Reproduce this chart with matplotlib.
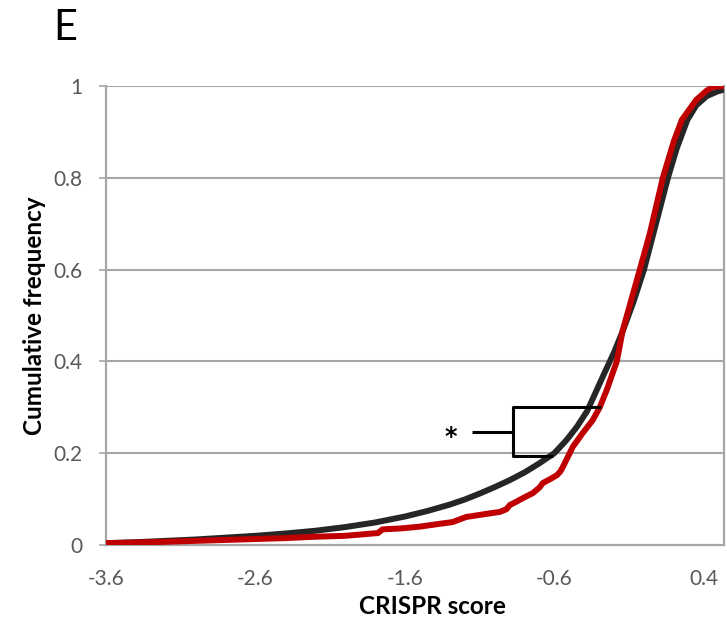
import matplotlib
matplotlib.use("Agg")
import matplotlib.pyplot as plt

plt.rcParams['font.family'] = ['Lato', 'DejaVu Sans']

# Black curve (all genes)
black_x = [-3.6, -3.4, -3.2, -3.0, -2.8, -2.6, -2.4, -2.2, -2.0, -1.8, -1.6, -1.45, -1.3,
           -1.2, -1.1, -1.0, -0.9, -0.8, -0.7, -0.6, -0.52, -0.45, -0.38, -0.32, -0.26,
           -0.2, -0.14, -0.07, 0.0, 0.08, 0.16, 0.22, 0.29, 0.35, 0.42, 0.49, 0.535]
black_y = [0.004, 0.006, 0.009, 0.012, 0.016, 0.020, 0.025, 0.031, 0.039, 0.049, 0.062, 0.074, 0.088,
           0.099, 0.112, 0.126, 0.141, 0.158, 0.178, 0.200, 0.228, 0.257, 0.292, 0.335, 0.378,
           0.420, 0.468, 0.530, 0.600, 0.700, 0.800, 0.865, 0.926, 0.958, 0.978, 0.988, 0.992]

# Red curve (subset)
red_x = [-3.6, -3.2, -2.8, -2.4, -2.2, -2.0, -1.78, -1.75, -1.63, -1.50, -1.37, -1.28, -1.19,
         -1.05, -0.965, -0.92, -0.898, -0.85, -0.811, -0.744, -0.70, -0.677, -0.62, -0.583,
         -0.56, -0.543, -0.476, -0.41, -0.343, -0.296, -0.249, -0.182, -0.142, -0.028, 0.04,
         0.126, 0.20, 0.253, 0.35, 0.42, 0.46, 0.535]
red_y = [0.004, 0.007, 0.011, 0.015, 0.018, 0.020, 0.026, 0.034, 0.036, 0.040, 0.046, 0.050, 0.061,
         0.068, 0.072, 0.078, 0.087, 0.095, 0.102, 0.113, 0.125, 0.135, 0.145, 0.152,
         0.160, 0.170, 0.214, 0.244, 0.272, 0.300, 0.338, 0.400, 0.468, 0.600, 0.680,
         0.800, 0.880, 0.926, 0.970, 0.990, 0.998, 1.0]

x_ticks = [-3.6, -2.6, -1.6, -0.6, 0.4]
x_tick_labels = ["-3.6", "-2.6", "-1.6", "-0.6", "0.4"]
y_ticks = [0, 0.2, 0.4, 0.6, 0.8, 1.0]
y_tick_labels = ["0", "0.2", "0.4", "0.6", "0.8", "1"]

fig = plt.figure(figsize=(7.27, 6.21), dpi=100)
ax = fig.add_axes([0.1458, 0.1224, 0.850, 0.7391])

grid_c = '#A6A6A6'
ax.set_xlim(-3.6, 0.535)
ax.set_ylim(0, 1)
for yv in y_ticks[1:]:
    ax.axhline(yv, color=grid_c, lw=1.5, zorder=1)

ax.plot(black_x, black_y, color='#262626', lw=4.3, zorder=3, solid_capstyle='butt',
        solid_joinstyle='round')
ax.plot(red_x, red_y, color='#C00000', lw=4.3, zorder=4, solid_capstyle='butt',
        solid_joinstyle='round')

# significance bracket
bk = dict(color='black', lw=2.2, zorder=5, solid_capstyle='butt')
ax.plot([-0.289, -0.878, -0.878, -0.610], [0.301, 0.301, 0.194, 0.194], **bk)
ax.plot([-1.152, -0.878], [0.246, 0.246], **bk)
ax.text(-1.29, 0.236, '*', ha='center', va='center', fontsize=17, fontweight='bold',
        family=['DejaVu Sans'])

for s in ['left', 'right', 'bottom', 'top']:
    ax.spines[s].set_color(grid_c)
    ax.spines[s].set_linewidth(1.6)
ax.spines['top'].set_visible(False)

ax.set_xticks(x_ticks)
ax.set_xticklabels(x_tick_labels)
ax.set_yticks(y_ticks)
ax.set_yticklabels(y_tick_labels)
ax.tick_params(axis='x', length=0, pad=17, labelsize=15, labelcolor='#595959')
ax.tick_params(axis='y', length=5, width=1.2, color=grid_c, pad=12, labelsize=15,
               labelcolor='#595959', direction='out')

fig.text(432 / 727, 1 - 606 / 621, 'CRISPR score', fontsize=17.5, fontweight='bold',
         ha='center', va='center')
fig.text(35 / 727, 1 - 316 / 621, 'Cumulative frequency', fontsize=17.5, fontweight='bold',
         ha='center', va='center', rotation=90)

fig.text(0.073, 1 - 28 / 621, 'E', fontsize=30, ha='left', va='center')

fig.savefig('out.png', dpi=100)
